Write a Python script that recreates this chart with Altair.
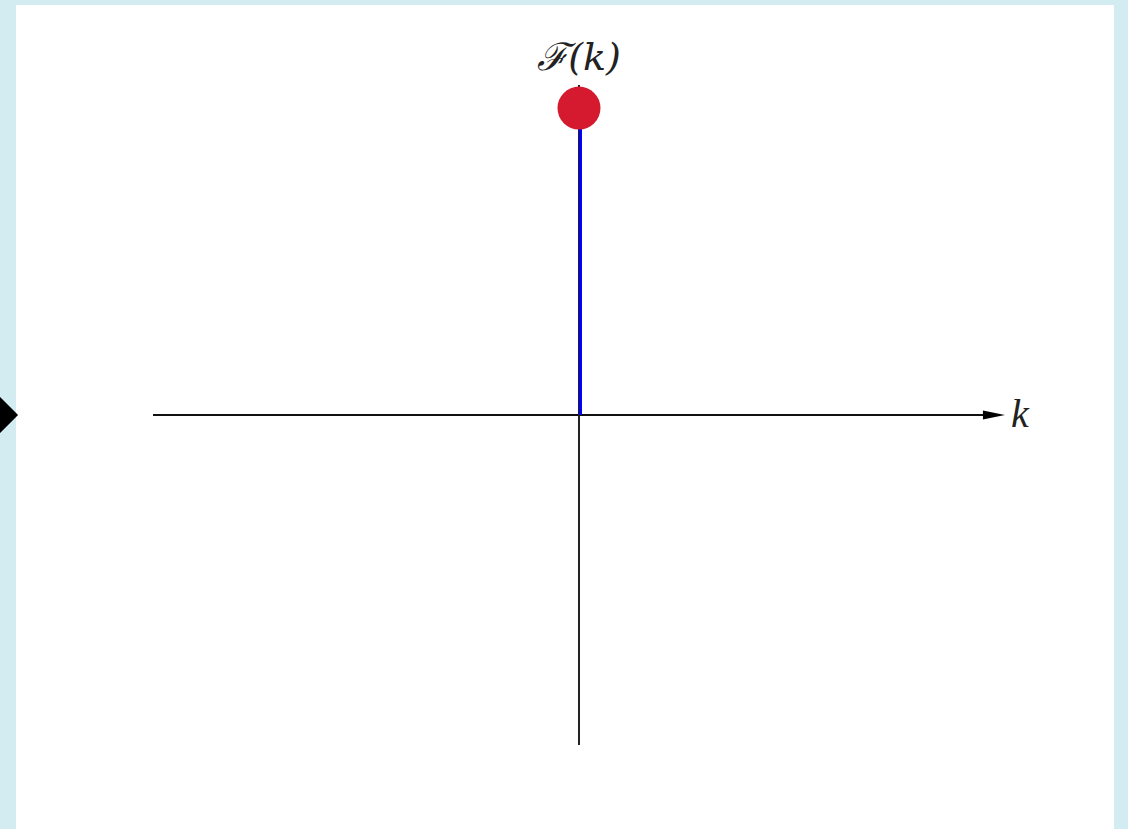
import altair as alt
import pandas as pd

# A single spectral line: F(k) is nonzero only at k = 0
k_vals = [0.0]
F_vals = [0.93]

# Coordinate axes, in data units
axis_min = -1.0
axis_max = 1.0
arrow_at = 0.974

# Label positions
title_label = ["ℱ(k)"]
title_pos = [0.0, 1.08]
k_label = ["k"]
k_pos = [1.035, 0.0]

# Navigation marker on the left edge
marker_pos = [-1.359, 0.0]

x_dom = [-1.3216, 1.2559]
y_dom = [-1.2545, 1.2424]

X = lambda f: alt.X(f, type="quantitative", scale=alt.Scale(domain=x_dom, nice=False, zero=False), axis=None)
Y = lambda f: alt.Y(f, type="quantitative", scale=alt.Scale(domain=y_dom, nice=False, zero=False), axis=None)

h_axis = alt.Chart(pd.DataFrame({"x": [axis_min], "x2": [arrow_at], "y": [0.0]})).mark_rule(
    color="#111111", strokeWidth=2
).encode(x=X("x"), x2="x2", y=Y("y"))

v_axis = alt.Chart(pd.DataFrame({"x": [0.0], "y": [axis_min], "y2": [axis_max]})).mark_rule(
    color="#222222", strokeWidth=2
).encode(x=X("x"), y=Y("y"), y2="y2")

arrow = alt.Chart(pd.DataFrame({"x": [arrow_at], "y": [0.0]})).mark_point(
    shape="M-1,-0.4L1,0L-1,0.4Z", filled=True, color="#000000", size=484, opacity=1
).encode(x=X("x"), y=Y("y"))

spec = pd.DataFrame({"k": k_vals, "F": F_vals, "base": [0.0] * len(k_vals)})

stem = alt.Chart(spec).mark_rule(color="#0000ff", strokeWidth=3, xOffset=1.5).encode(
    x=X("k"), y=Y("base"), y2="F"
)

dot = alt.Chart(spec).mark_circle(color="#d51a2f", size=1849, opacity=1).encode(
    x=X("k"), y=Y("F")
)

title = alt.Chart(pd.DataFrame({"t": title_label, "x": [title_pos[0]], "y": [title_pos[1]]})).mark_text(
    font="DejaVu Serif", fontSize=38, fontStyle="italic", color="#222222", baseline="middle", align="center"
).encode(x=X("x"), y=Y("y"), text="t:N")

klab = alt.Chart(pd.DataFrame({"t": k_label, "x": [k_pos[0]], "y": [k_pos[1]]})).mark_text(
    font="Liberation Serif", fontSize=40, fontStyle="italic", color="#222222", baseline="middle", align="center"
).encode(x=X("x"), y=Y("y"), text="t:N")

marker = alt.Chart(pd.DataFrame({"x": [marker_pos[0]], "y": [marker_pos[1]]})).mark_point(
    shape="diamond", filled=True, color="#000000", size=1300, opacity=1
).encode(x=X("x"), y=Y("y"))

chart = alt.layer(h_axis, v_axis, arrow, stem, dot, title, klab, marker).properties(
    width=1098,
    height=824,
    autosize=alt.AutoSizeParams(type="none"),
    padding={"left": 16, "top": 5, "right": 14, "bottom": 0},
    background="#d3ecf2",
).configure_view(fill="#ffffff", stroke=None)

chart.save("out.html", embed_options={"renderer": "svg", "actions": False})
